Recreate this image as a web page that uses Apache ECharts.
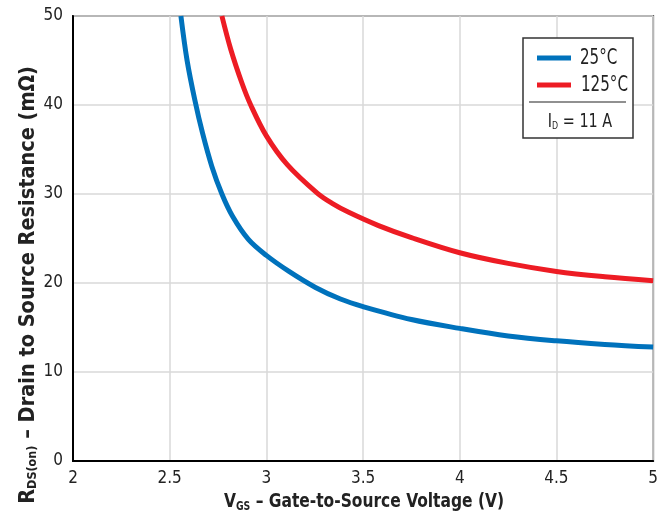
<!DOCTYPE html>
<html>
<head>
<meta charset="utf-8">
<script src="https://cdn.jsdelivr.net/npm/echarts@6/dist/echarts.min.js"></script>
<style>
  html, body { margin: 0; padding: 0; background: #fff; }
  #chart { width: 661px; height: 513px; }
</style>
</head>
<body>
<div id="chart"></div>
<script>
// On-resistance vs. gate-source voltage, I_D = 11 A
const seriesNames = ['25°C', '125°C'];
const seriesColors = ['#0072BC', '#ED1C24'];

const vgs25 = [2.558, 2.59, 2.630, 2.670, 2.718, 2.770, 2.825, 2.907, 3.0, 3.117, 3.254, 3.383, 3.5, 3.75, 4.0, 4.25, 4.5, 4.75, 5.0];
const rds25 = [50, 45, 40.56, 36.83, 33.1, 30, 27.5, 24.9, 23.1, 21.3, 19.5, 18.2, 17.35, 15.9, 14.9, 14.05, 13.5, 13.1, 12.8];

const vgs125 = [2.770, 2.816, 2.873, 2.919, 3.0, 3.108, 3.263, 3.34, 3.426, 3.58, 3.75, 4.0, 4.25, 4.5, 4.75, 5.0];
const rds125 = [50, 46.24, 42.5, 40, 36.53, 33.3, 30.1, 28.95, 27.94, 26.45, 25.1, 23.4, 22.2, 21.3, 20.7, 20.25];

const xTicks = [2, 2.5, 3, 3.5, 4, 4.5, 5];
const yTicks = [0, 10, 20, 30, 40, 50];
const xTitle = ['V', 'GS', ' – Gate-to-Source Voltage (V)'];
const yTitle = ['R', 'DS(on)', ' – Drain to Source Resistance (mΩ)'];
const currentLabel = ['I', 'D', ' = 11 A'];

const FONT = '"Liberation Sans Narrow", "DejaVu Sans Condensed", "Liberation Sans", sans-serif';
const INK = '#222';

const pairs = (xs, ys) => xs.map((x, i) => [x, ys[i]]);
const subText = parts => '{b|' + parts[0] + '}{s|' + parts[1] + '}{b|' + parts[2] + '}';

const chart = echarts.init(document.getElementById('chart'), null, { renderer: 'canvas' });

chart.setOption({
  animation: false,
  backgroundColor: '#fff',
  grid: {
    left: 73, right: 5, top: 16, bottom: 52,
    show: true, borderColor: '#555', borderWidth: 2
  },
  xAxis: {
    type: 'value',
    min: xTicks[0], max: xTicks[xTicks.length - 1], interval: 0.5,
    axisLine: { lineStyle: { color: '#000', width: 2 } },
    axisTick: { show: false },
    splitLine: { lineStyle: { color: '#d9d9d9', width: 1.5 } },
    axisLabel: { color: INK, fontFamily: FONT, fontSize: 17, margin: 9,
      formatter: v => String(v) }
  },
  yAxis: {
    type: 'value',
    min: yTicks[0], max: yTicks[yTicks.length - 1], interval: 10,
    axisLine: { show: true, lineStyle: { color: '#000', width: 2 } },
    axisTick: { show: false },
    splitLine: { lineStyle: { color: '#d9d9d9', width: 1.5 } },
    axisLabel: { color: INK, fontFamily: FONT, fontSize: 17, margin: 10 }
  },
  series: [
    {
      name: seriesNames[0], type: 'line', smooth: 0.35, showSymbol: false,
      data: pairs(vgs25, rds25),
      lineStyle: { color: seriesColors[0], width: 5 }
    },
    {
      name: seriesNames[1], type: 'line', smooth: 0.35, showSymbol: false,
      data: pairs(vgs125, rds125),
      lineStyle: { color: seriesColors[1], width: 5 }
    }
  ],
  graphic: [
    // horizontal axis title
    {
      type: 'text', x: 364, y: 502, scaleX: 0.86,
      style: {
        text: subText(xTitle), align: 'center', verticalAlign: 'middle',
        rich: {
          b: { fontFamily: FONT, fontWeight: 'bold', fontSize: 20, fill: INK },
          s: { fontFamily: FONT, fontWeight: 'bold', fontSize: 12, fill: INK, padding: [9, 0, 0, 0] }
        }
      }
    },
    // vertical axis title
    {
      type: 'text', x: 28, y: 285, rotation: Math.PI / 2,
      style: {
        text: subText(yTitle), align: 'center', verticalAlign: 'middle',
        rich: {
          b: { fontFamily: FONT, fontWeight: 'bold', fontSize: 21.5, fill: INK },
          s: { fontFamily: FONT, fontWeight: 'bold', fontSize: 12.5, fill: INK, padding: [10, 0, 0, 0] }
        }
      }
    },
    // key box
    {
      type: 'rect', shape: { x: 523, y: 38, width: 110, height: 100 },
      style: { fill: '#fff', stroke: '#333', lineWidth: 1.5 }, z: 10
    },
    { type: 'line', shape: { x1: 537, y1: 58, x2: 571, y2: 58 },
      style: { stroke: seriesColors[0], lineWidth: 5 }, z: 11 },
    { type: 'line', shape: { x1: 537, y1: 85, x2: 571, y2: 85 },
      style: { stroke: seriesColors[1], lineWidth: 5 }, z: 11 },
    { type: 'text', x: 580, y: 59, scaleX: 0.8, z: 11,
      style: { text: seriesNames[0], fontFamily: FONT, fontSize: 21, fill: INK, verticalAlign: 'middle' } },
    { type: 'text', x: 581, y: 86, scaleX: 0.8, z: 11,
      style: { text: seriesNames[1], fontFamily: FONT, fontSize: 21, fill: INK, verticalAlign: 'middle' } },
    { type: 'line', shape: { x1: 529, y1: 102, x2: 626, y2: 102 },
      style: { stroke: INK, lineWidth: 1.2 }, z: 11 },
    { type: 'text', x: 580, y: 122, scaleX: 0.8, z: 11,
      style: {
        text: subText(currentLabel), align: 'center', verticalAlign: 'middle',
        rich: {
          b: { fontFamily: FONT, fontSize: 20, fill: INK },
          s: { fontFamily: FONT, fontSize: 11, fill: INK, padding: [9, 0, 0, 0] }
        }
      }
    }
  ]
});
</script>
</body>
</html>
